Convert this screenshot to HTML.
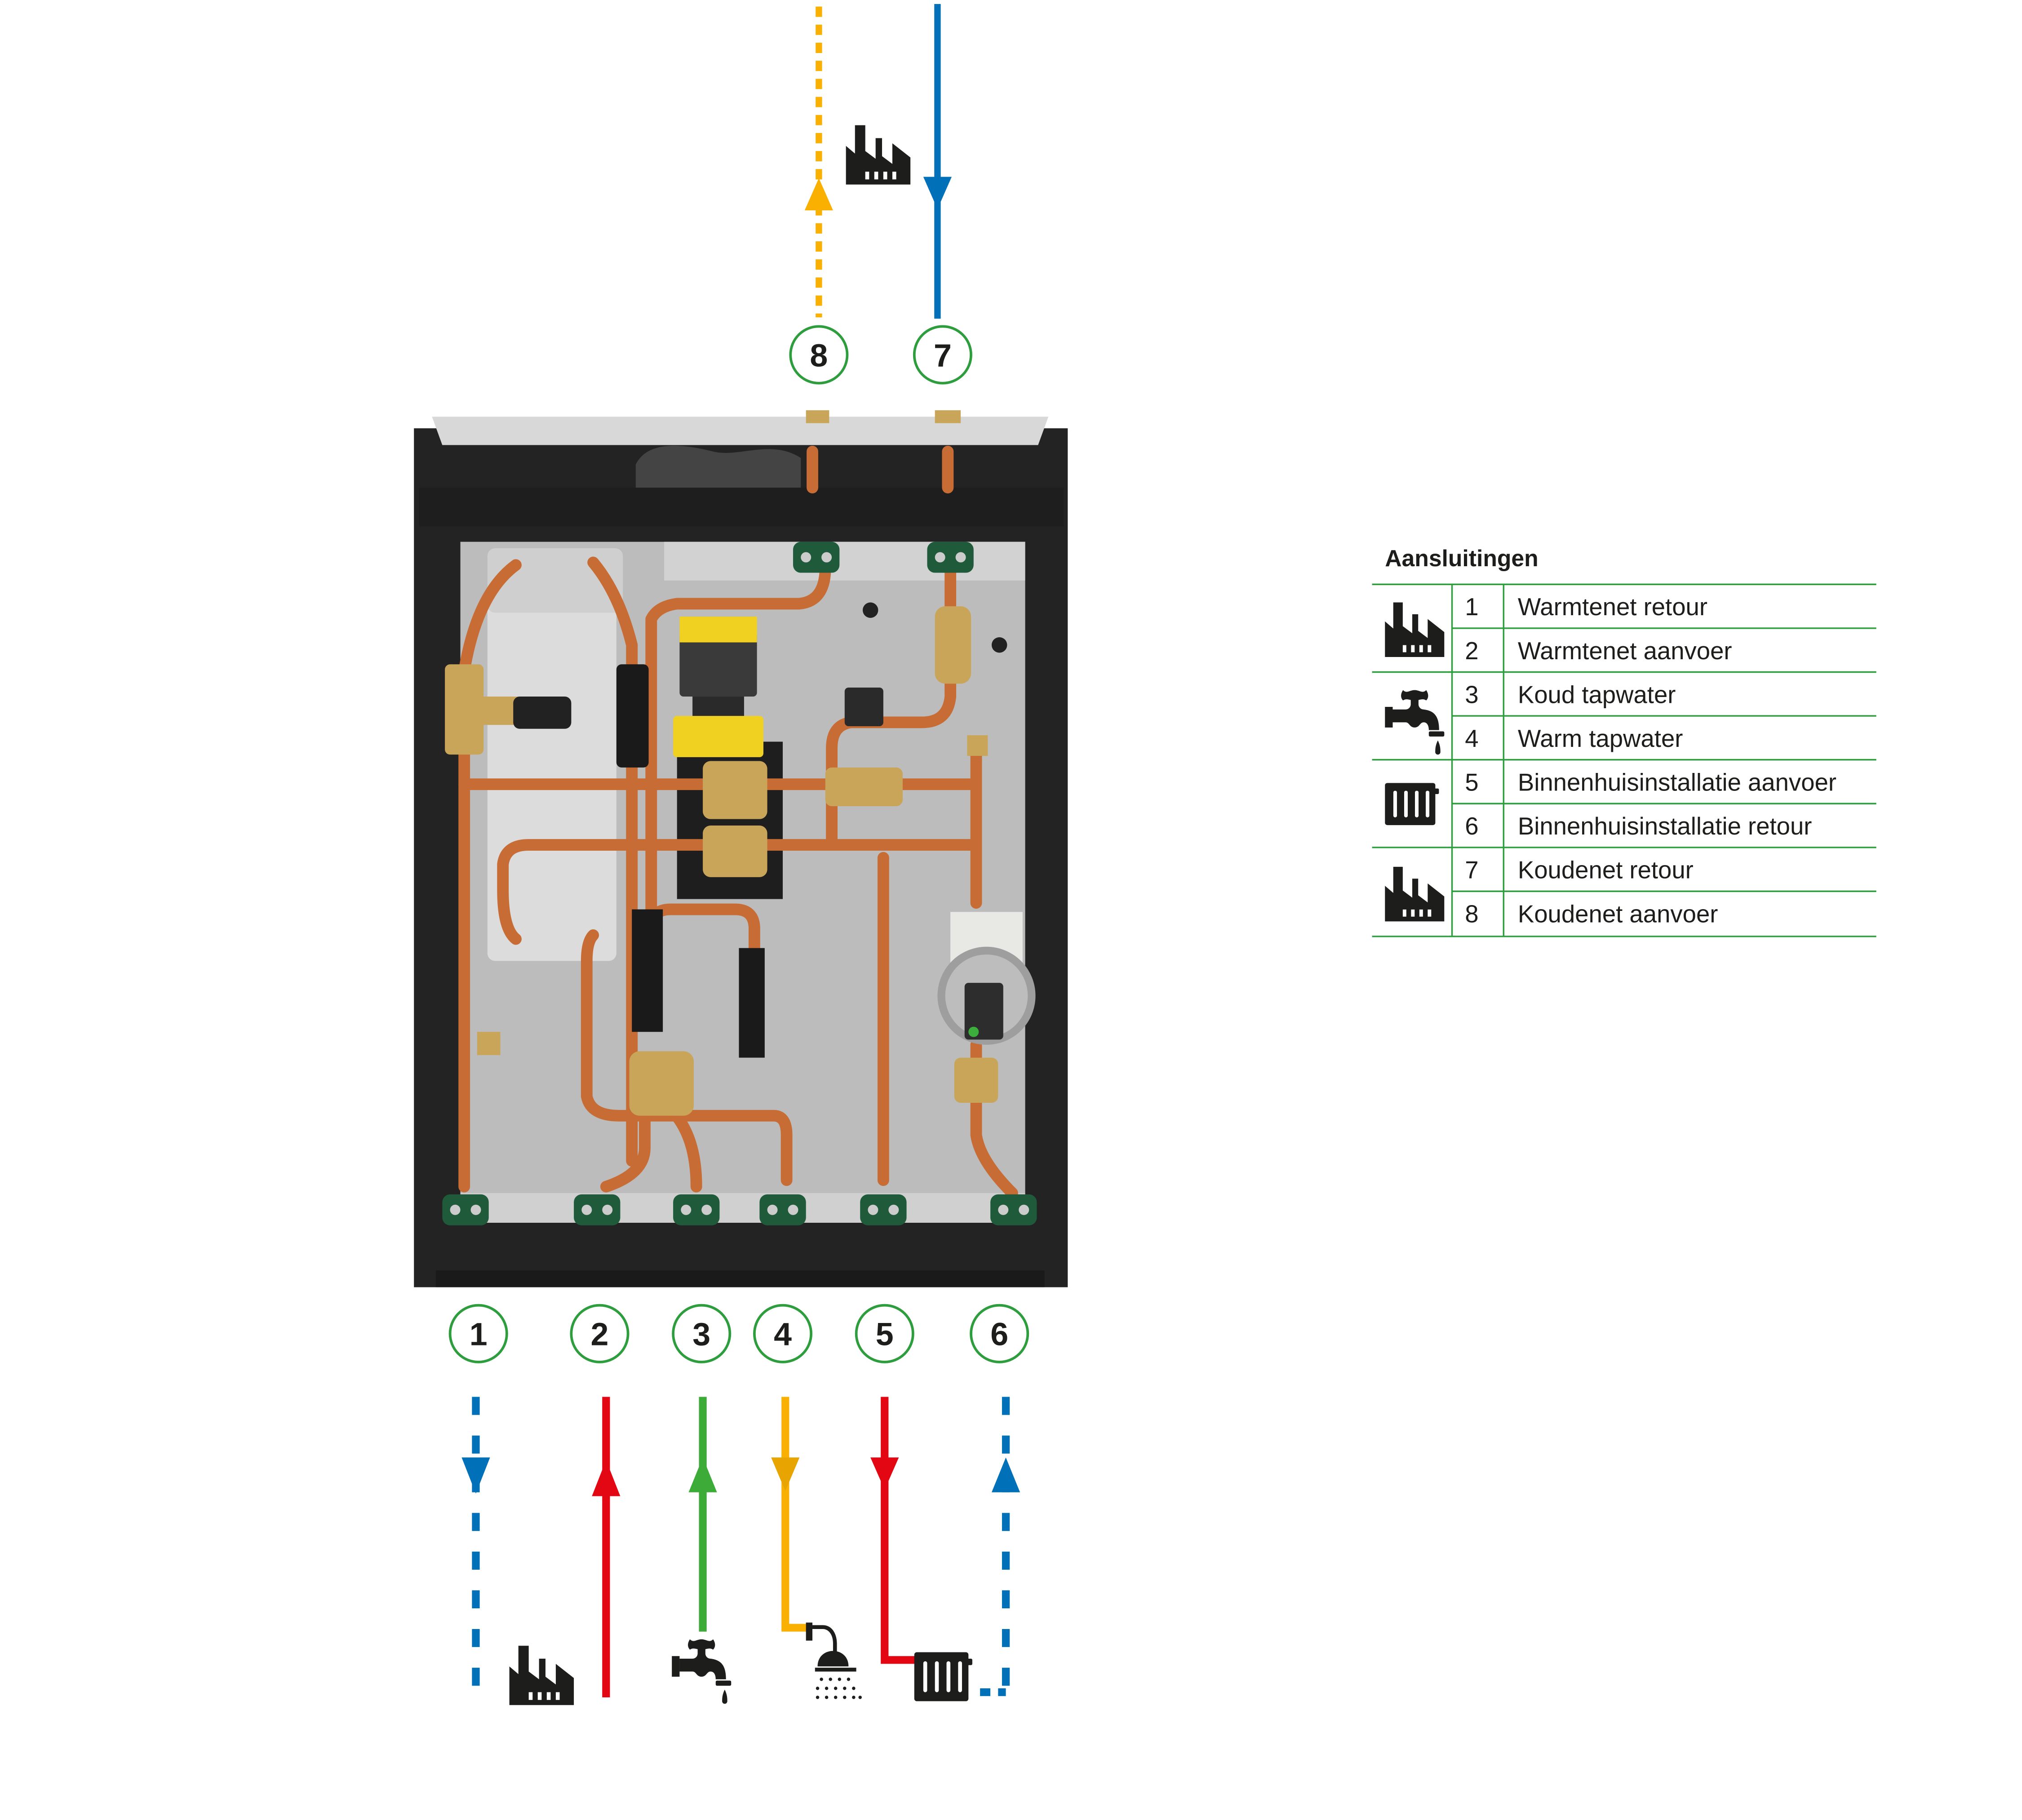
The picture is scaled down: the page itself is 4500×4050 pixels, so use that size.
<!DOCTYPE html>
<html><head><meta charset="utf-8"><style>html,body{margin:0;padding:0;background:#fff}svg{display:block}</style></head><body>
<svg width="4500" height="4050" viewBox="0 0 1568 1411" xmlns="http://www.w3.org/2000/svg" font-family="'Liberation Sans',sans-serif">
<defs>
<g id="fac"><path d="M0 46 V16 l7 6 V0 h8 V20 l8 6 V10 h5 V24 l8 6 V14 l14 11 V46 Z" fill="#1d1d1b"/><rect x="15" y="36" width="3" height="6" fill="#fff"/><rect x="22" y="36" width="3" height="6" fill="#fff"/><rect x="29" y="36" width="3" height="6" fill="#fff"/><rect x="36" y="36" width="3" height="6" fill="#fff"/></g>
<g id="tap"><rect x="0" y="14" width="6" height="16" fill="#1d1d1b"/><path d="M6 16 h10 a4 4 0 0 0 4-4 v-5 h6 v5 a4 4 0 0 0 4 4 c8 1 12 5 12 16 h-8 c0-3-1-6-4-6 c-3 0-3 4-7 4 c-4 0-4-4-7-4 h-10 Z" fill="#1d1d1b"/><path d="M14 1 c3 3 5 0 9 0 c4 0 6 3 9 0 c2 3 2 6 0 8 c-3-2-5 0-9 0 c-4 0-6-2-9 0 c-2-2-2-5 0-8Z" fill="#1d1d1b"/><rect x="34" y="33" width="12" height="4" rx="1" fill="#1d1d1b"/><path d="M41 40 c2 4 2 7 2 9 a2 2 0 0 1-4 0 c0-2 0-5 2-9Z" fill="#1d1d1b"/></g>
<g id="rad"><rect x="0" y="0" width="42" height="38" rx="2" fill="#1d1d1b"/><rect x="41" y="5" width="4" height="5" rx="1" fill="#1d1d1b"/><rect x="7" y="7" width="3" height="24" rx="1.5" fill="#fff"/><rect x="16" y="7" width="3" height="24" rx="1.5" fill="#fff"/><rect x="25" y="7" width="3" height="24" rx="1.5" fill="#fff"/><rect x="34" y="7" width="3" height="24" rx="1.5" fill="#fff"/></g>
<g id="clip"><rect x="-18" y="-12" width="36" height="24" rx="6" fill="#1f5a3a"/><circle cx="-8" cy="0" r="4" fill="#ccc"/><circle cx="8" cy="0" r="4" fill="#ccc"/></g>
</defs>

<line x1="635" y1="5" x2="635" y2="246" stroke="#f9b000" stroke-width="5" stroke-dasharray="8,6"/>
<path d="M624 163 L646 163 L635 138Z" fill="#f9b000"/>
<line x1="727" y1="3" x2="727" y2="247" stroke="#0070b8" stroke-width="5"/>
<path d="M716 137 L738 137 L727 162Z" fill="#0070b8"/>
<use href="#fac" x="656" y="97"/>

<g fill="#fff" stroke="#2e9d3e" stroke-width="2">
<circle cx="635" cy="275" r="22"/><circle cx="731" cy="275" r="22"/>
<circle cx="371" cy="1034" r="22"/><circle cx="465" cy="1034" r="22"/><circle cx="544" cy="1034" r="22"/><circle cx="607" cy="1034" r="22"/><circle cx="686" cy="1034" r="22"/><circle cx="775" cy="1034" r="22"/>
</g>
<g font-size="25" font-weight="bold" text-anchor="middle" fill="#1d1d1b">
<text x="635" y="284">8</text><text x="731" y="284">7</text>
<text x="371" y="1043">1</text><text x="465" y="1043">2</text><text x="544" y="1043">3</text><text x="607" y="1043">4</text><text x="686" y="1043">5</text><text x="775" y="1043">6</text>
</g>

<line x1="369" y1="1083" x2="369" y2="1318" stroke="#0070b8" stroke-width="6" stroke-dasharray="14,16"/>
<path d="M358 1130 L380 1130 L369 1158Z" fill="#0070b8"/>
<line x1="470" y1="1083" x2="470" y2="1316" stroke="#e30613" stroke-width="6"/>
<path d="M459 1160 L481 1160 L470 1132Z" fill="#e30613"/>
<line x1="545" y1="1083" x2="545" y2="1265" stroke="#3dab37" stroke-width="6"/>
<path d="M534 1157 L556 1157 L545 1130Z" fill="#3dab37"/>
<polyline points="609,1083 609,1262 626,1262" fill="none" stroke="#f9b000" stroke-width="6"/>
<path d="M598 1130 L620 1130 L609 1156Z" fill="#e8a400"/>
<polyline points="686,1083 686,1287 712,1287" fill="none" stroke="#e30613" stroke-width="6"/>
<path d="M675 1130 L697 1130 L686 1155Z" fill="#e30613"/>
<line x1="780" y1="1083" x2="780" y2="1312" stroke="#0070b8" stroke-width="6" stroke-dasharray="14,16"/>
<line x1="760" y1="1312" x2="780" y2="1312" stroke="#0070b8" stroke-width="6" stroke-dasharray="8,6"/>
<path d="M769 1157 L791 1157 L780 1130Z" fill="#0070b8"/>
<use href="#fac" x="395" y="1276"/>
<use href="#tap" x="521" y="1270"/>
<use href="#rad" x="709" y="1281"/>
<g fill="#1d1d1b"><rect x="625" y="1258" width="5" height="14"/><path d="M630 1260 h8 c8 0 11 8 11 14 v9 h-3 v-9 c0-6-3-11-8-11 h-8Z"/><path d="M636 1294 c0-8 6-12 12-12 c6 0 12 4 12 12Z" transform="translate(-2,-2)"/><rect x="632" y="1293" width="32" height="3"/>
<circle cx="637" cy="1302" r="1.3"/><circle cx="644" cy="1302" r="1.3"/><circle cx="651" cy="1302" r="1.3"/><circle cx="658" cy="1302" r="1.3"/>
<circle cx="634" cy="1309" r="1.3"/><circle cx="641" cy="1309" r="1.3"/><circle cx="648" cy="1309" r="1.3"/><circle cx="655" cy="1309" r="1.3"/><circle cx="662" cy="1309" r="1.3"/>
<circle cx="634" cy="1316" r="1.3"/><circle cx="641" cy="1316" r="1.3"/><circle cx="648" cy="1316" r="1.3"/><circle cx="655" cy="1316" r="1.3"/><circle cx="662" cy="1316" r="1.3"/><circle cx="667" cy="1316" r="1.3"/></g>

<rect x="321" y="332" width="507" height="666" fill="#232323"/>
<rect x="338" y="985" width="472" height="13" fill="#1a1a1a"/>
<polygon points="335,323 813,323 805,345 343,345" fill="#d8d8d8"/>
<rect x="325" y="378" width="500" height="30" fill="#1e1e1e"/>
<path d="M493 378 V360 c10-20 40-15 60-10 c20 5 45-10 68 5 v23Z" fill="#444"/>
<rect x="357" y="420" width="438" height="528" fill="#bcbcbc"/>
<rect x="515" y="420" width="280" height="30" fill="#d2d2d2"/>
<rect x="357" y="925" width="438" height="23" fill="#d0d0d0"/>
<rect x="378" y="460" width="100" height="285" rx="6" fill="#dcdcdc"/>
<rect x="378" y="425" width="105" height="50" rx="6" fill="#cfcfcf"/>
<rect x="525" y="575" width="82" height="122" fill="#1e1e1e"/>
<circle cx="675" cy="473" r="6" fill="#222"/><circle cx="775" cy="500" r="6" fill="#222"/>
<g fill="none" stroke="#c66c34" stroke-width="9" stroke-linejoin="round" stroke-linecap="round">
<path d="M630 350 V378"/><path d="M735 350 V378"/>
<path d="M360 920 V520 Q370 460 400 438"/>
<path d="M490 900 V500 Q480 460 460 436"/>
<path d="M505 720 V480 Q510 470 525 468 H620 Q640 466 640 440"/>
<path d="M360 608 H755"/>
<path d="M400 728 Q390 720 390 690 V670 Q392 655 410 655 H755"/>
<path d="M737 430 V540 Q735 560 715 560 H660 Q645 562 645 580 V650"/>
<path d="M685 665 V915"/>
<path d="M757 575 V700"/><path d="M757 810 V880 Q760 900 785 925"/>
<path d="M460 725 Q455 730 455 745 V850 Q458 865 480 865 H600 Q610 865 610 880 V915"/>
<path d="M500 840 V890 Q500 910 470 920"/><path d="M520 860 Q540 880 540 920"/>
<path d="M505 720 Q505 705 520 705 H570 Q585 705 585 720 V740"/>
</g>
<g fill="#1a1a1a"><rect x="490" y="705" width="24" height="95"/><rect x="573" y="735" width="20" height="85"/><rect x="478" y="515" width="25" height="80" rx="4"/></g>
<g fill="#c9a55a"><rect x="345" y="515" width="30" height="70" rx="4"/><rect x="370" y="540" width="40" height="22"/><rect x="725" y="470" width="28" height="60" rx="8"/><rect x="545" y="590" width="50" height="45" rx="6"/><rect x="545" y="640" width="50" height="40" rx="6"/><rect x="640" y="595" width="60" height="30" rx="5"/><rect x="488" y="815" width="50" height="50" rx="8"/><rect x="740" y="820" width="34" height="35" rx="5"/><rect x="625" y="318" width="18" height="10"/><rect x="725" y="318" width="20" height="10"/><rect x="370" y="800" width="18" height="18"/><rect x="750" y="570" width="16" height="16"/></g>
<rect x="398" y="540" width="45" height="25" rx="5" fill="#222"/>
<rect x="527" y="490" width="60" height="50" rx="3" fill="#3a3a3a"/>
<rect x="527" y="478" width="60" height="20" fill="#f0d020"/>
<rect x="537" y="540" width="40" height="20" fill="#2a2a2a"/>
<rect x="522" y="555" width="70" height="32" rx="3" fill="#f0d020"/>
<rect x="655" y="533" width="30" height="30" rx="3" fill="#2a2a2a"/>
<rect x="737" y="707" width="56" height="40" fill="#e8e8e5"/>
<circle cx="765" cy="772" r="38" fill="#9e9e9e"/><circle cx="765" cy="772" r="32" fill="#bdbdbd"/>
<rect x="748" y="762" width="30" height="44" rx="3" fill="#2d2d2d"/><circle cx="755" cy="800" r="4" fill="#3cae3c"/>
<g><use href="#clip" x="633" y="432"/><use href="#clip" x="737" y="432"/><use href="#clip" x="361" y="938"/><use href="#clip" x="463" y="938"/><use href="#clip" x="540" y="938"/><use href="#clip" x="607" y="938"/><use href="#clip" x="685" y="938"/><use href="#clip" x="786" y="938"/></g>

<text x="1074" y="439" font-size="18" font-weight="bold" fill="#1d1d1b">Aansluitingen</text>
<g stroke="#2e9d3e" stroke-width="1.2">
<line x1="1064" y1="453" x2="1455" y2="453"/><line x1="1126" y1="487" x2="1455" y2="487"/><line x1="1064" y1="521" x2="1455" y2="521"/><line x1="1126" y1="555" x2="1455" y2="555"/><line x1="1064" y1="589" x2="1455" y2="589"/><line x1="1126" y1="623" x2="1455" y2="623"/><line x1="1064" y1="657" x2="1455" y2="657"/><line x1="1126" y1="691" x2="1455" y2="691"/><line x1="1064" y1="726" x2="1455" y2="726"/>
<line x1="1126" y1="453" x2="1126" y2="726"/><line x1="1166" y1="453" x2="1166" y2="726"/>
</g>
<g font-size="19" fill="#1d1d1b">
<text x="1136" y="477">1</text><text x="1177" y="477">Warmtenet retour</text>
<text x="1136" y="511">2</text><text x="1177" y="511">Warmtenet aanvoer</text>
<text x="1136" y="545">3</text><text x="1177" y="545">Koud tapwater</text>
<text x="1136" y="579">4</text><text x="1177" y="579">Warm tapwater</text>
<text x="1136" y="613">5</text><text x="1177" y="613">Binnenhuisinstallatie aanvoer</text>
<text x="1136" y="647">6</text><text x="1177" y="647">Binnenhuisinstallatie retour</text>
<text x="1136" y="681">7</text><text x="1177" y="681">Koudenet retour</text>
<text x="1136" y="715">8</text><text x="1177" y="715">Koudenet aanvoer</text>
</g>
<use href="#fac" x="1074" y="467" transform="translate(1074,467) scale(0.92) translate(-1074,-467)"/>
<use href="#tap" x="1074" y="534"/>
<use href="#rad" x="1074" y="607" transform="translate(1074,607) scale(0.93,0.86) translate(-1074,-607)"/>
<use href="#fac" x="1074" y="672" transform="translate(1074,672) scale(0.92) translate(-1074,-672)"/>
</svg>
</body></html>
